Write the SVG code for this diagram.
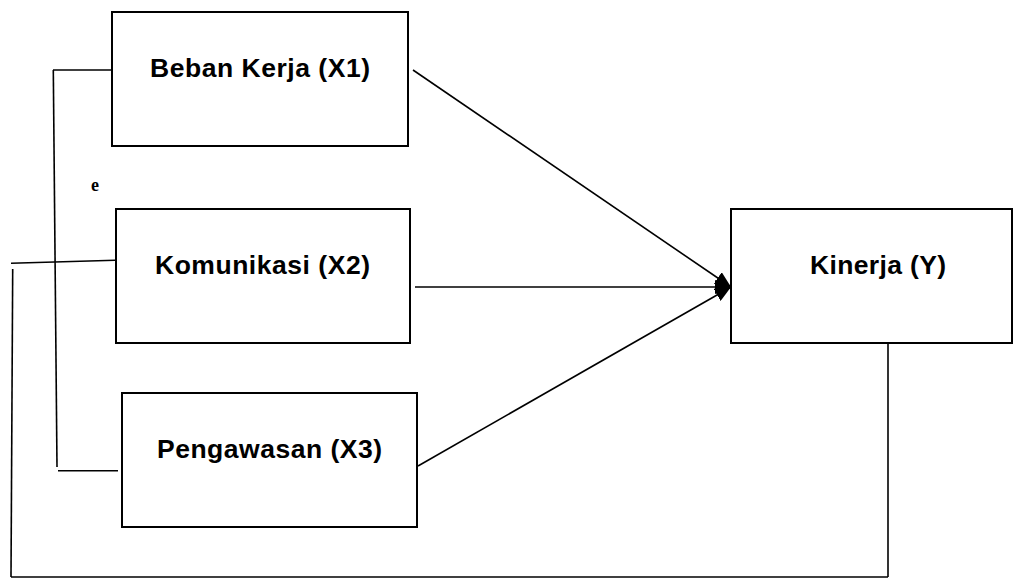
<svg xmlns="http://www.w3.org/2000/svg" width="1015" height="579" viewBox="0 0 1015 579">
<style>
.box{fill:#fff;stroke:#000;stroke-width:2}
.lbl{font-family:"Liberation Sans",Arial,sans-serif;font-weight:bold;font-size:26.5px;fill:#000;text-anchor:middle}
.ln{fill:none;stroke:#000;stroke-width:1.6}
</style>
<defs>
<marker id="ah" markerUnits="userSpaceOnUse" markerWidth="16" markerHeight="14" refX="16" refY="7" orient="auto">
<path d="M0,0 L16,7 L0,14 z" fill="#000"/>
</marker>
</defs>
<rect width="1015" height="579" fill="#fff"/>
<g id="connectors">
<line class="ln" x1="53" y1="70" x2="112" y2="70"/>
<line class="ln" x1="53.3" y1="70" x2="57" y2="467"/>
<line class="ln" x1="58" y1="470.7" x2="118" y2="470.7"/>
<line class="ln" x1="11" y1="263.3" x2="115" y2="260.3"/>
<line class="ln" x1="12.7" y1="269" x2="11" y2="577"/>
<line class="ln" x1="11" y1="577" x2="888" y2="577"/>
<line class="ln" x1="888" y1="342.7" x2="888" y2="577"/>
<line class="ln" x1="413" y1="70" x2="731" y2="287" marker-end="url(#ah)"/>
<line class="ln" x1="415" y1="287" x2="731" y2="287" marker-end="url(#ah)"/>
<line class="ln" x1="418" y1="466" x2="731" y2="287" marker-end="url(#ah)"/>
</g>
<g id="node-x1">
<rect class="box" x="112" y="12" width="296" height="134"/>
<text class="lbl" x="260" y="77" textLength="220">Beban Kerja (X1)</text>
</g>
<g id="node-x2">
<rect class="box" x="116" y="209" width="294" height="134"/>
<text class="lbl" x="262.5" y="274" textLength="215">Komunikasi (X2)</text>
</g>
<g id="node-x3">
<rect class="box" x="122" y="393" width="295" height="134"/>
<text class="lbl" x="269.5" y="458" textLength="225">Pengawasan (X3)</text>
</g>
<g id="node-y">
<rect class="box" x="731" y="209" width="281" height="134"/>
<text class="lbl" x="878" y="274" textLength="136">Kinerja (Y)</text>
</g>
<text x="91" y="191" font-family="'Liberation Serif','Times New Roman',serif" font-weight="bold" font-size="18" fill="#000">e</text>
</svg>
